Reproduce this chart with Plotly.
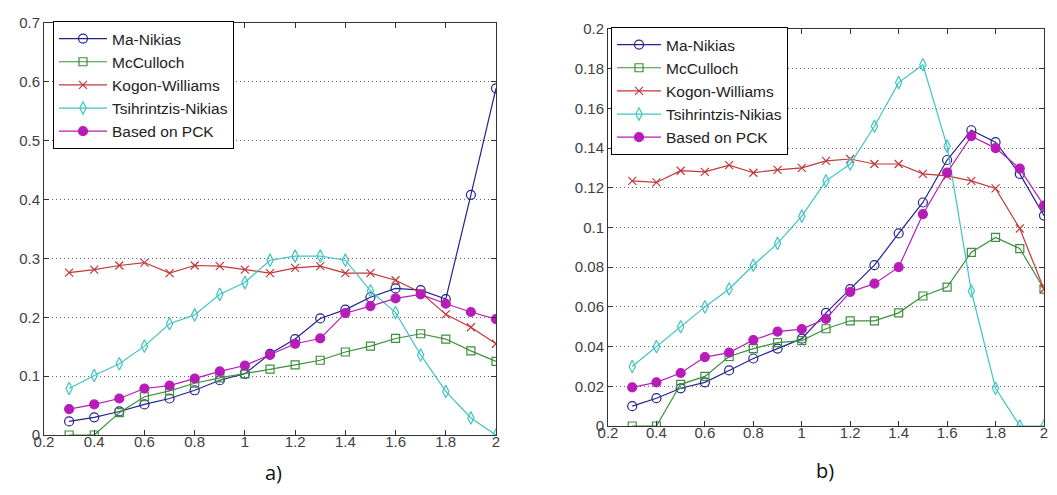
import plotly.graph_objects as go

x = [0.3, 0.4, 0.5, 0.6, 0.7, 0.8, 0.9, 1.0, 1.1, 1.2, 1.3, 1.4, 1.5, 1.6, 1.7, 1.8, 1.9, 2.0]

names = ["Ma-Nikias", "McCulloch", "Kogon-Williams", "Tsihrintzis-Nikias", "Based on PCK"]

# panel a)
a_ma = [0.023, 0.030, 0.040, 0.052, 0.062, 0.076, 0.093, 0.104, 0.138, 0.163, 0.198, 0.213, 0.234, 0.249, 0.246, 0.231, 0.408, 0.589]
a_mc = [0.0, 0.0, 0.038, 0.065, 0.075, 0.088, 0.097, 0.104, 0.112, 0.119, 0.127, 0.141, 0.151, 0.164, 0.172, 0.163, 0.143, 0.125]
a_kw = [0.276, 0.281, 0.288, 0.293, 0.275, 0.288, 0.287, 0.281, 0.275, 0.284, 0.287, 0.275, 0.275, 0.263, 0.242, 0.205, 0.183, 0.155]
a_tn = [0.079, 0.101, 0.121, 0.151, 0.189, 0.204, 0.239, 0.259, 0.297, 0.304, 0.304, 0.297, 0.245, 0.208, 0.136, 0.074, 0.029, 0.0]
a_pck = [0.044, 0.052, 0.062, 0.079, 0.084, 0.096, 0.108, 0.118, 0.136, 0.155, 0.164, 0.207, 0.219, 0.232, 0.239, 0.223, 0.209, 0.197]

# panel b)
b_ma = [0.010, 0.014, 0.019, 0.022, 0.028, 0.034, 0.039, 0.044, 0.057, 0.069, 0.081, 0.097, 0.1126, 0.134, 0.149, 0.143, 0.127, 0.106]
b_mc = [0.0, 0.0, 0.021, 0.025, 0.035, 0.039, 0.042, 0.043, 0.049, 0.053, 0.053, 0.057, 0.0655, 0.070, 0.0875, 0.095, 0.0894, 0.069]
b_kw = [0.1235, 0.1227, 0.1286, 0.128, 0.1314, 0.1276, 0.129, 0.130, 0.1336, 0.1345, 0.132, 0.132, 0.127, 0.126, 0.1235, 0.1197, 0.0995, 0.069]
b_tn = [0.030, 0.040, 0.050, 0.060, 0.069, 0.081, 0.092, 0.1057, 0.1235, 0.132, 0.151, 0.173, 0.182, 0.141, 0.068, 0.019, 0.0, 0.0]
b_pck = [0.0195, 0.022, 0.0267, 0.0347, 0.037, 0.0433, 0.0475, 0.0488, 0.054, 0.0675, 0.0717, 0.080, 0.1067, 0.1276, 0.146, 0.140, 0.1297, 0.111]

colors = ["#23238f", "#3d8f3d", "#c0393a", "#3fc4c4", "#b81cb8"]
symbols = ["circle-open", "square-open", "x-thin-open", "diamond-tall-open", "circle"]
msizes = [9, 8, 8, 9, 9]

fig = go.Figure()

panels = [
    (a_ma, a_mc, a_kw, a_tn, a_pck),
    (b_ma, b_mc, b_kw, b_tn, b_pck),
]
for p, series in enumerate(panels):
    xa = "x" if p == 0 else "x2"
    ya = "y" if p == 0 else "y2"
    lg = "legend" if p == 0 else "legend2"
    for i, ys in enumerate(series):
        fig.add_trace(go.Scatter(
            x=x, y=ys, name=names[i], mode="lines+markers",
            xaxis=xa, yaxis=ya, legend=lg,
            line=dict(color=colors[i], width=1.2),
            marker=dict(symbol=symbols[i], size=msizes[i], color=colors[i],
                        line=dict(color=colors[i], width=1.2)),
        ))

tickfont = dict(family="Liberation Sans, Arial", size=15, color="#404040")
xcommon = dict(range=[0.2, 2.0], dtick=0.2, tick0=0.2, showgrid=False, zeroline=False,
               showline=True, linecolor="#333", linewidth=1, mirror="ticks",
               ticks="inside", ticklen=5, tickcolor="#333", tickfont=tickfont,
               ticklabelstandoff=-7, automargin=False)
ycommon = dict(showgrid=True, gridcolor="#666", griddash="1px,3px", gridwidth=1, zeroline=False,
               showline=True, linecolor="#333", linewidth=1, mirror="ticks",
               ticks="inside", ticklen=5, tickcolor="#333", tickfont=tickfont,
               automargin=False)

legfont = dict(family="Liberation Sans, Arial", size=15.5, color="#222")
fig.update_layout(
    width=1057, height=495,
    margin=dict(l=0, r=0, t=0, b=0),
    paper_bgcolor="white", plot_bgcolor="white",
    xaxis=dict(domain=[36/1057, 488/1057], anchor="y", **xcommon),
    yaxis=dict(domain=[1-427/495, 1-15/495], anchor="x", range=[0, 0.7], dtick=0.1, **ycommon),
    xaxis2=dict(domain=[600/1057, 1036/1057], anchor="y2", **xcommon),
    yaxis2=dict(domain=[1-418/495, 1-21/495], anchor="x2", range=[0, 0.2], dtick=0.02, **ycommon),
    legend=dict(x=45/1057, y=1-13/495, xanchor="left", yanchor="top",
                bgcolor="white", bordercolor="black", borderwidth=1,
                font=legfont, itemwidth=48, tracegroupgap=0),
    legend2=dict(x=603/1057, y=1-19/495, xanchor="left", yanchor="top",
                 bgcolor="white", bordercolor="black", borderwidth=1,
                 font=legfont, itemwidth=44, tracegroupgap=0),
    showlegend=True,
    annotations=[
        dict(text="a)", x=255/1057, y=1-480/495, xref="paper", yref="paper",
             showarrow=False, font=dict(family="Open Sans", size=20, color="#111")),
        dict(text="b)", x=828/1057, y=1-478/495, xref="paper", yref="paper",
             showarrow=False, font=dict(family="Open Sans", size=20, color="#111")),
    ],
)

fig.write_html("out.html")
